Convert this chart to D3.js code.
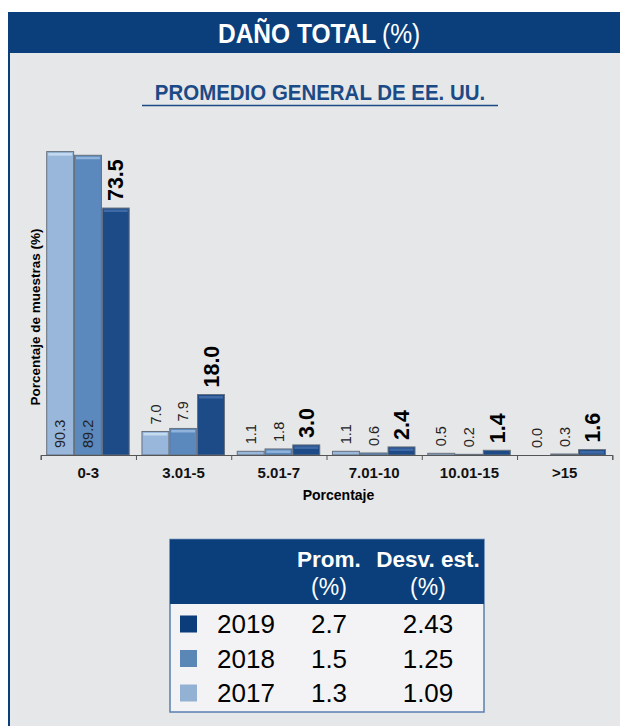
<!DOCTYPE html>
<html>
<head>
<meta charset="utf-8">
<script src="https://cdn.jsdelivr.net/npm/d3@7"></script>
<style>
  body { margin: 0; background: #ffffff; }
  svg { display: block; font-family: "Liberation Sans", Arial, sans-serif; }
</style>
</head>
<body>
<script>
var categories = ["0-3", "3.01-5", "5.01-7", "7.01-10", "10.01-15", ">15"];
var years = ["2017", "2018", "2019"];
var values2017 = [90.3, 7.0, 1.1, 1.1, 0.5, 0.0];
var values2018 = [89.2, 7.9, 1.8, 0.6, 0.2, 0.3];
var values2019 = [73.5, 18.0, 3.0, 2.4, 1.4, 1.6];

var tableYears = ["2019", "2018", "2017"];
var tableMean = ["2.7", "1.5", "1.3"];
var tableStd = ["2.43", "1.25", "1.09"];

var svgWidth = 620;
var svgHeight = 726;

var navy = "#0b3f7c";
var barColors = {"2017": "#98b7da", "2018": "#5b89bd", "2019": "#1d4b88"};
var barTops = {"2017": "#c4daf0", "2018": "#8fb3da", "2019": "#3f6aa6"};
var keyColors = {"2017": "#93b1d3", "2018": "#5a87b5", "2019": "#0b3d7b"};

var svg = d3.select("body")
            .append("svg")
            .attr("width", svgWidth)
            .attr("height", svgHeight);

// panel + header
svg.append("rect")
   .attr("x", 8).attr("y", 12)
   .attr("width", svgWidth - 8).attr("height", svgHeight - 12)
   .attr("fill", "#e6e7e9");
svg.append("line")
   .attr("x1", 9).attr("x2", 9).attr("y1", 12).attr("y2", svgHeight)
   .attr("stroke", navy).attr("stroke-width", 2);
svg.append("rect")
   .attr("x", 8).attr("y", 12)
   .attr("width", svgWidth - 8).attr("height", 41)
   .attr("fill", navy);

// condensed look: squeeze horizontally
svg.append("text")
   .attr("transform", "translate(218, 43) scale(0.875, 1)")
   .attr("fill", "#ffffff")
   .attr("font-size", 28)
   .attr("font-weight", "bold")
   .text("DAÑO TOTAL");
svg.append("text")
   .attr("transform", "translate(382, 43) scale(0.88, 1)")
   .attr("fill", "#ffffff")
   .attr("font-size", 28)
   .text("(%)");

svg.append("text")
   .attr("transform", "translate(320, 100) scale(0.93, 1)")
   .attr("text-anchor", "middle")
   .attr("fill", "#1b4a86")
   .attr("font-size", 22)
   .attr("font-weight", "bold")
   .text("PROMEDIO GENERAL DE EE. UU.");
svg.append("line")
   .attr("x1", 142).attr("x2", 498).attr("y1", 105.5).attr("y2", 105.5)
   .attr("stroke", "#1b4a86").attr("stroke-width", 1.5);

// chart
var baseY = 455;
var xScale = d3.scaleBand()
               .domain(categories)
               .range([40.7, 612.3]);
var xInner = d3.scaleBand()
               .domain(years)
               .range([6, 88.5])
               .paddingInner(0.03);
var yScale = d3.scaleLinear()
               .domain([0, 100])
               .range([baseY, baseY - 336]);

var seriesData = {"2017": values2017, "2018": values2018, "2019": values2019};
var rows = [];
years.forEach(function(yr) {
    seriesData[yr].forEach(function(v, i) {
        rows.push({year: yr, cat: categories[i], value: v});
    });
});

var chartGroup = svg.append("g");

var barGroup = chartGroup.selectAll("g.bar").data(rows).enter()
    .append("g").attr("class", "bar");

barGroup.append("rect")
    .attr("x", d => xScale(d.cat) + xInner(d.year))
    .attr("y", d => yScale(d.value))
    .attr("width", xInner.bandwidth())
    .attr("height", d => baseY - yScale(d.value))
    .attr("fill", d => barColors[d.year])
    .attr("stroke", "#66717e")
    .attr("stroke-width", 1);

barGroup.filter(d => baseY - yScale(d.value) > 5)
    .append("rect")
    .attr("x", d => xScale(d.cat) + xInner(d.year) + 1.5)
    .attr("y", d => yScale(d.value) + 1.5)
    .attr("width", xInner.bandwidth() - 3)
    .attr("height", 2.5)
    .attr("fill", d => barTops[d.year]);

// value labels
chartGroup.selectAll("text.val").data(rows).enter()
    .append("text")
    .attr("class", "val")
    .attr("transform", function(d) {
        var cx = xScale(d.cat) + xInner(d.year) + xInner.bandwidth() / 2;
        var inside = d.year !== "2019" && d.value > 50;
        var y0 = inside ? baseY - 7 : yScale(d.value) - 7;
        return `translate(${cx}, ${y0}) rotate(-90)`;
    })
    .attr("dy", "0.36em")
    .attr("font-size", d => d.year === "2019" ? 21.5 : 14.5)
    .attr("font-weight", d => d.year === "2019" ? "bold" : "normal")
    .attr("fill", d => d.year === "2019" ? "#000000" : "#222222")
    .text(d => d.value.toFixed(1));

// axis: boundary ticks
var tickScale = d3.scaleLinear().domain([0, categories.length]).range([40.7, 612.3]);
chartGroup.append("g")
    .attr("transform", `translate(0, ${baseY})`)
    .call(d3.axisBottom(tickScale).ticks(categories.length).tickSize(5).tickSizeOuter(5).tickFormat(""))
    .call(g => g.selectAll("path, line").attr("stroke", "#555555"));

chartGroup.append("g")
    .attr("transform", `translate(0, ${baseY})`)
    .call(d3.axisBottom(xScale).tickSize(0).tickPadding(12.5))
    .call(g => g.select(".domain").remove())
    .call(g => g.selectAll("text")
        .attr("font-family", "Liberation Sans, Arial, sans-serif")
        .attr("font-size", 15)
        .attr("font-weight", "bold")
        .attr("fill", "#111111"));

chartGroup.append("text")
    .attr("x", 338.5).attr("y", 500)
    .attr("text-anchor", "middle")
    .attr("font-size", 14).attr("font-weight", "bold")
    .text("Porcentaje");

chartGroup.append("text")
    .attr("transform", "translate(35, 317) rotate(-90)")
    .attr("text-anchor", "middle")
    .attr("dy", "0.36em")
    .attr("font-size", 13.5).attr("font-weight", "bold")
    .text("Porcentaje de muestras (%)");

// table
var tbl = svg.append("g");
tbl.append("rect")
   .attr("x", 170).attr("y", 539.5).attr("width", 314).attr("height", 172.5)
   .attr("fill", "#f3f3f5").attr("stroke", "#5b7fae").attr("stroke-width", 1.5);
tbl.append("rect")
   .attr("x", 170).attr("y", 539.5).attr("width", 314).attr("height", 64.5)
   .attr("fill", navy);

var colMean = 329;
var colStd = 428;
[[colMean, "Prom."], [colStd, "Desv. est."]].forEach(function(h) {
    tbl.append("text")
       .attr("x", h[0]).attr("y", 567)
       .attr("text-anchor", "middle")
       .attr("fill", "#ffffff").attr("font-size", 22.5).attr("font-weight", "bold")
       .text(h[1]);
    tbl.append("text")
       .attr("x", h[0]).attr("y", 595)
       .attr("text-anchor", "middle")
       .attr("fill", "#ffffff").attr("font-size", 23)
       .text("(%)");
});

var rowY = d3.scalePoint().domain(tableYears).range([624, 693]);
var tRows = tbl.selectAll("g.row").data(tableYears).enter()
    .append("g").attr("class", "row");
tRows.append("rect")
    .attr("x", 180).attr("y", d => rowY(d) - 8.5)
    .attr("width", 17).attr("height", 17)
    .attr("fill", d => keyColors[d]);
tRows.append("text")
    .attr("x", 217).attr("y", d => rowY(d) + 9)
    .attr("font-size", 26)
    .text(d => d);
tRows.append("text")
    .attr("x", colMean).attr("y", d => rowY(d) + 9)
    .attr("text-anchor", "middle")
    .attr("font-size", 26)
    .text((d, i) => tableMean[i]);
tRows.append("text")
    .attr("x", colStd).attr("y", d => rowY(d) + 9)
    .attr("text-anchor", "middle")
    .attr("font-size", 26)
    .text((d, i) => tableStd[i]);
</script>
</body>
</html>
